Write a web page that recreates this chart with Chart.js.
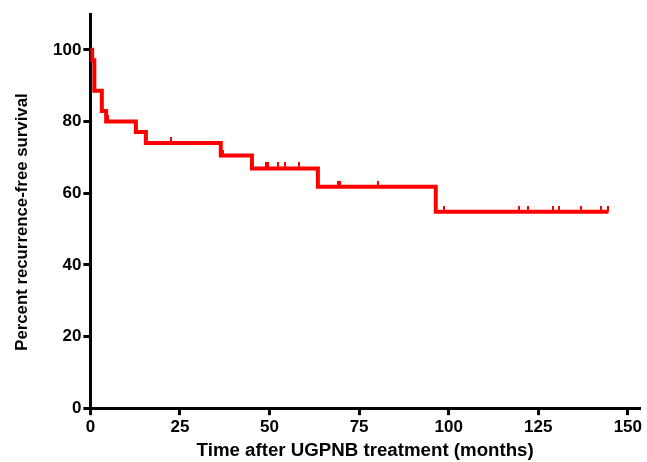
<!DOCTYPE html>
<html>
<head>
<meta charset="utf-8">
<script src="https://cdn.jsdelivr.net/npm/chart.js@4.4.1/dist/chart.umd.min.js"></script>
<style>
  html, body { margin: 0; padding: 0; background: #fff; }
  #wrap { width: 647px; height: 462px; }
</style>
</head>
<body>
<div id="wrap"><canvas id="kmChart" width="647" height="462"></canvas></div>
<script>
// Kaplan-Meier step data (months, percent)
const eventTimes = [0, 0.5, 1.1, 3.2, 4.4, 12.7, 15.5, 36.4, 45.1, 63.5, 96.4, 144.6];
const survival   = [100, 97.1, 88.6, 82.9, 80.0, 77.1, 74.0, 70.5, 66.9, 61.8, 54.8, 54.8];
// censored observations (months)
const censorTimes = [5.0, 13.0, 22.5, 37.0, 49.0, 49.5, 52.5, 54.4, 58.3, 69.1, 69.6, 80.2,
                     98.7, 119.7, 122.2, 129.0, 130.8, 136.9, 142.6, 144.6];
const xTicks = [0, 25, 50, 75, 100, 125, 150];
const yTicks = [0, 20, 40, 60, 80, 100];

document.addEventListener('DOMContentLoaded', function() {
    const red = '#ff0000';
    const family = '"Liberation Sans", Arial, sans-serif';
    const font = { family: family, weight: 'bold', size: 17 };

    // survival level at time t (step function)
    function survAt(t) {
        let s = survival[0];
        for (let i = 0; i < eventTimes.length; i++) {
            if (eventTimes[i] <= t) s = survival[i];
        }
        return s;
    }

    // small upward tick used as censor mark
    const tick = document.createElement('canvas');
    tick.width = 2;
    tick.height = 12;
    const tctx = tick.getContext('2d');
    tctx.fillStyle = red;
    tctx.fillRect(0, 0, 2, 6);

    // y axis title, drawn a bit below the axis centre like the original
    const yTitlePlugin = {
        id: 'yTitle',
        afterDraw(chart) {
            const ctx = chart.ctx;
            const area = chart.chartArea;
            ctx.save();
            ctx.translate(22, (area.top + area.bottom) / 2 + 11);
            ctx.rotate(-Math.PI / 2);
            ctx.font = 'bold 16.8px ' + family;
            ctx.fillStyle = '#000';
            ctx.textAlign = 'center';
            ctx.textBaseline = 'middle';
            ctx.fillText('Percent recurrence-free survival', 0, 0);
            ctx.restore();
        }
    };

    new Chart(document.getElementById('kmChart'), {
        type: 'line',
        data: {
            datasets: [{
                data: eventTimes.map((t, i) => ({ x: t, y: survival[i] })),
                borderColor: red,
                borderWidth: 4,
                stepped: 'before',
                pointRadius: 0,
                fill: false
            }, {
                data: censorTimes.map(t => ({ x: t, y: survAt(t) })),
                showLine: false,
                pointStyle: tick,
                pointRadius: 6,
                pointHoverRadius: 6
            }]
        },
        plugins: [yTitlePlugin],
        options: {
            responsive: false,
            animation: false,
            layout: { padding: { top: 14, right: 2, left: 51, bottom: 0 } },
            plugins: {
                legend: { display: false },
                tooltip: { enabled: false }
            },
            scales: {
                x: {
                    type: 'linear',
                    min: 0,
                    max: 153.4,
                    afterBuildTicks: function(scale) {
                        scale.ticks = xTicks.map(v => ({ value: v }));
                    },
                    grid: {
                        drawOnChartArea: false,
                        drawTicks: true,
                        tickLength: 7,
                        tickWidth: 3,
                        tickColor: '#000'
                    },
                    border: { color: '#000', width: 3 },
                    ticks: { color: '#000', font: font, padding: 2, maxRotation: 0 },
                    title: {
                        display: true,
                        text: 'Time after UGPNB treatment (months)',
                        color: '#000',
                        font: { family: family, weight: 'bold', size: 18.7 },
                        padding: { top: 0, bottom: 0 }
                    }
                },
                y: {
                    min: 0,
                    max: 110,
                    afterBuildTicks: function(scale) {
                        scale.ticks = yTicks.map(v => ({ value: v }));
                    },
                    grid: {
                        drawOnChartArea: false,
                        drawTicks: true,
                        tickLength: 7,
                        tickWidth: 3,
                        tickColor: '#000'
                    },
                    border: { color: '#000', width: 3 },
                    ticks: { color: '#000', font: font, padding: 2 }
                }
            }
        }
    });
});
</script>
</body>
</html>
